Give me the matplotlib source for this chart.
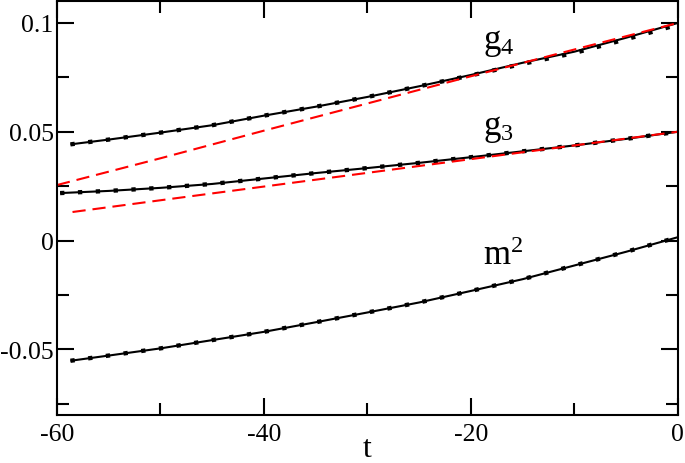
import matplotlib
matplotlib.use("Agg")
import matplotlib.pyplot as plt
from matplotlib.ticker import FixedLocator, FixedFormatter, MultipleLocator

plt.rcParams['font.family'] = ['Liberation Serif', 'DejaVu Serif']
plt.rcParams['mathtext.fontset'] = 'custom'
plt.rcParams['mathtext.rm'] = 'Liberation Serif'
plt.rcParams['mathtext.it'] = 'Liberation Serif'
plt.rcParams['axes.unicode_minus'] = False
plt.rcParams['lines.scale_dashes'] = False

# ---- data ----
t_g4 = [-58.7, -55, -50, -45, -40, -35, -30, -25, -20, -15, -10, -5, 0]
g4_solid = [0.0442, 0.0464, 0.0496, 0.0530, 0.0574, 0.0615, 0.0660, 0.0709,
            0.0761, 0.0817, 0.0868, 0.0932, 0.1000]
g4_dotted = [0.0442, 0.0464, 0.0496, 0.0530, 0.0574, 0.0615, 0.0660, 0.0709,
             0.0759, 0.0812, 0.0862, 0.0925, 0.0992]

t_g3 = [-59.7, -55, -50, -45, -40, -35, -30, -25, -20, -15, -10, -5, 0]
g3_solid = [0.0218, 0.0228, 0.0242, 0.0260, 0.0285, 0.0310, 0.0333, 0.0357,
            0.0383, 0.0410, 0.0437, 0.0467, 0.0500]
g3_dotted = g3_solid

t_m2 = [-58.7, -55, -50, -45, -40, -35, -30, -25, -20, -15, -10, -5, 0]
m2_solid = [-0.0553, -0.0529, -0.0496, -0.0458, -0.0420, -0.0376, -0.0331,
            -0.0285, -0.0232, -0.0178, -0.0115, -0.0052, 0.0015]
m2_dotted = m2_solid

t_g4_red = [-60, -50, -40, -30, -20, -10, 0]
g4_red = [0.0255, 0.0378, 0.0505, 0.0630, 0.0755, 0.0878, 0.1000]

t_g3_red = [-58.5, -50, -40, -30, -20, -10, 0]
g3_red = [0.0131, 0.0185, 0.0248, 0.0311, 0.0374, 0.0437, 0.0500]

xticks = [-60, -40, -20, 0]
xticklabels = ["-60", "-40", "-20", "0"]
yticks = [-0.05, 0, 0.05, 0.1]
yticklabels = ["-0.05", "0", "0.05", "0.1"]

labels = [(r"$\mathregular{g_4}$", -18.8, 0.0885),
          (r"$\mathregular{g_3}$", -18.8, 0.0490),
          (r"$\mathregular{m^2}$", -18.8, -0.0108)]

# ---- figure ----
fig = plt.figure(figsize=(6.85, 4.64), dpi=100)
W, H = 685, 464
left, right, top, bottom = 57, 677.7, 2.25, 415.5
ax = fig.add_axes([left / W, 1 - bottom / H, (right - left) / W, (bottom - top) / H])

lw_solid = 1.5
dot = dict(color='black', lw=3.1, linestyle=(0, (3.1, 9.75)), dash_capstyle='butt')
red = dict(color='#ff0000', lw=1.5, linestyle=(0, (9.5, 5.0)))

for tt, vs, vd in [(t_g4, g4_solid, g4_dotted), (t_g3, g3_solid, g3_dotted),
                   (t_m2, m2_solid, m2_dotted)]:
    ax.plot(tt, vs, color='black', lw=lw_solid, solid_capstyle='butt')
    ax.plot(tt, vd, **dot)

ax.plot(t_g4_red, g4_red, **red)
ax.plot(t_g3_red, g3_red, **red)

for txt, x, y in labels:
    ax.text(x, y, txt, fontsize=25, ha='left', va='baseline')

ax.set_xlim(-60, 0)
ax.set_ylim(-0.08, 0.11)

ax.xaxis.set_major_locator(FixedLocator(xticks))
ax.xaxis.set_major_formatter(FixedFormatter(xticklabels))
ax.xaxis.set_minor_locator(MultipleLocator(10))
ax.yaxis.set_major_locator(FixedLocator(yticks))
ax.yaxis.set_major_formatter(FixedFormatter(yticklabels))
ax.yaxis.set_minor_locator(MultipleLocator(0.025))

ax.tick_params(which='both', direction='in', top=True, right=True, width=1.5,
               labelsize=18.5)
ax.tick_params(axis='y', pad=2.5)
ax.tick_params(axis='x', pad=6)
ax.tick_params(which='major', length=12.5)
ax.tick_params(which='minor', length=8.5)
for s in ax.spines.values():
    s.set_linewidth(1.5)

ax.set_xlabel("t", fontsize=23, labelpad=-7.5)

fig.savefig("out.png", dpi=100)
